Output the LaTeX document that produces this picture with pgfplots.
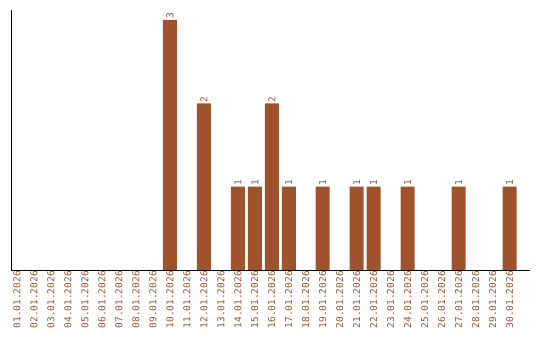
\documentclass[border=0pt]{standalone}
\usepackage{pgfplots}
\pgfplotsset{compat=1.18}
\usepackage{fontspec}
\setmonofont{DejaVu Sans Mono}
\definecolor{bar}{HTML}{A0522D}
\begin{document}
\begin{tikzpicture}
\begin{axis}[
  at={(11pt,70pt)}, anchor=south west,
  scale only axis, width=519pt, height=260pt,
  xmin=0.65, xmax=31.2, ymin=0, ymax=3.12,
  axis x line=bottom, axis y line=left,
  axis line style={-, line width=1pt, black},
  ytick=\empty,
  xtick={1,...,30},
  xticklabels={01.01.2026,02.01.2026,03.01.2026,04.01.2026,05.01.2026,06.01.2026,07.01.2026,08.01.2026,09.01.2026,10.01.2026,11.01.2026,12.01.2026,13.01.2026,14.01.2026,15.01.2026,16.01.2026,17.01.2026,18.01.2026,19.01.2026,20.01.2026,21.01.2026,22.01.2026,23.01.2026,24.01.2026,25.01.2026,26.01.2026,27.01.2026,28.01.2026,29.01.2026,30.01.2026},
  x tick label style={rotate=90, anchor=east, font=\ttfamily\fontsize{9.5}{10}\selectfont, text=bar, inner sep=1pt},
  major tick length=0pt,
  ybar, bar width=14pt,
  nodes near coords={\pgfmathprintnumber[assume math mode=true]{\pgfplotspointmeta}},
  every node near coord/.append style={rotate=90, anchor=west, font=\ttfamily\fontsize{9.5}{10}\selectfont, text=bar, inner sep=1pt},
]
\addplot[fill=bar, draw=none] coordinates {(10,3)(12,2)(14,1)(15,1)(16,2)(17,1)(19,1)(21,1)(22,1)(24,1)(27,1)(30,1)};
\end{axis}
\pgfresetboundingbox
\useasboundingbox (0,0) rectangle (540pt,340pt);
\end{tikzpicture}
\end{document}
